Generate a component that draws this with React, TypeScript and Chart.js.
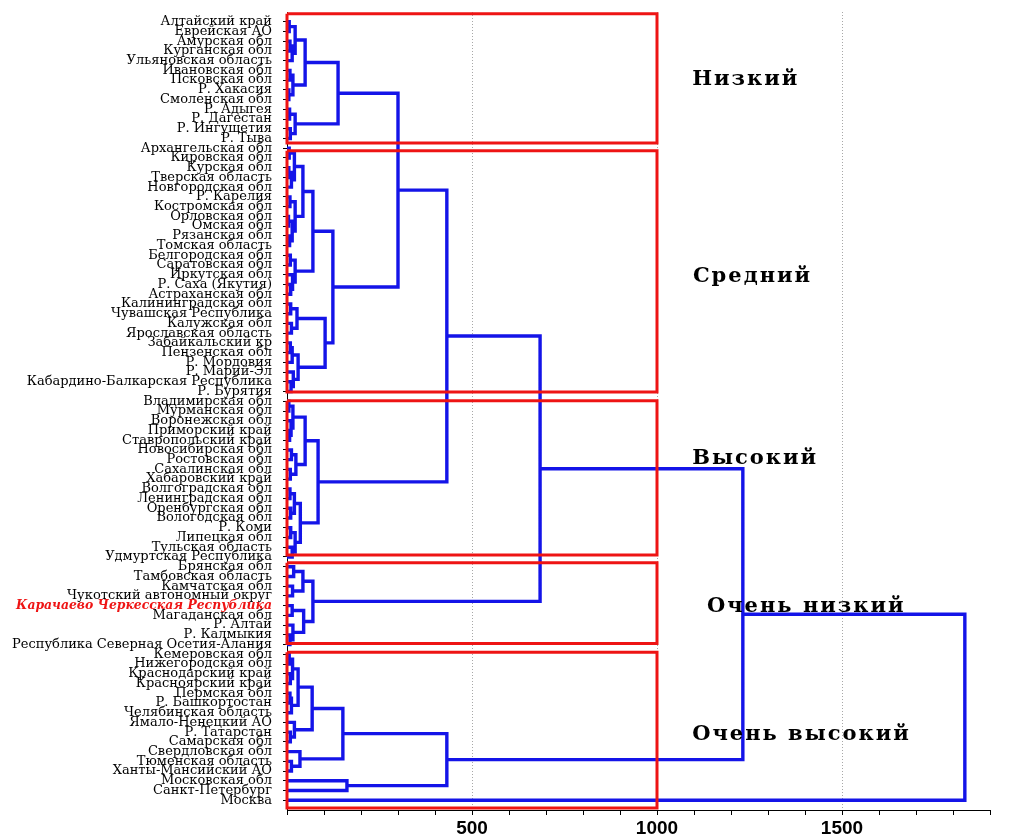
import React, { useEffect, useRef } from 'react';
import { Chart, registerables } from 'chart.js';

Chart.register(...registerables);

// Leaf labels, top to bottom
const leafLabels: string[] = [
  'Алтайский край', 'Еврейская АО', 'Амурская обл', 'Курганская обл', 'Ульяновская область',
  'Ивановская обл', 'Псковская обл', 'Р. Хакасия', 'Смоленская обл', 'Р. Адыгея',
  'Р. Дагестан', 'Р. Ингушетия', 'Р. Тыва',
  'Архангельская обл', 'Кировская обл', 'Курская обл', 'Тверская область', 'Новгородская обл',
  'Р. Карелия', 'Костромская обл', 'Орловская обл', 'Омская обл', 'Рязанская обл',
  'Томская область', 'Белгородская обл', 'Саратовская обл', 'Иркутская обл', 'Р. Саха (Якутия)',
  'Астраханская обл', 'Калининградская обл', 'Чувашская Республика', 'Калужская обл',
  'Ярославская область', 'Забайкальский кр', 'Пензенская обл', 'Р. Мордовия', 'Р. Марий-Эл',
  'Кабардино-Балкарская Республика', 'Р. Бурятия',
  'Владимирская обл', 'Мурманская обл', 'Воронежская обл', 'Приморский край', 'Ставропольский край',
  'Новосибирская обл', 'Ростовская обл', 'Сахалинская обл', 'Хабаровский край', 'Волгоградская обл',
  'Ленинградская обл', 'Оренбургская обл', 'Вологодская обл', 'Р. Коми', 'Липецкая обл',
  'Тульская область', 'Удмуртская Республика',
  'Брянская обл', 'Тамбовская область', 'Камчатская обл', 'Чукотский автономный округ',
  'Карачаево Черкесская Республика', 'Магаданская обл', 'Р. Алтай', 'Р. Калмыкия',
  'Республика Северная Осетия-Алания',
  'Кемеровская обл', 'Нижегородская обл', 'Краснодарский край', 'Красноярский край', 'Пермская обл',
  'Р. Башкортостан', 'Челябинская область', 'Ямало-Ненецкий АО', 'Р. Татарстан', 'Самарская обл',
  'Свердловская обл', 'Тюменская область', 'Ханты-Мансийский АО', 'Московская обл',
  'Санкт-Петербург', 'Москва',
];
const highlightedLeaf = 60;

// Merge trees: [left, right, linkage distance]; numbers are leaf indices
type Node = number | [Node, Node, number];

const lowTree: Node = [
  [
    [[0, 1, 6], [[2, 3, 8], 4, 14], 22],
    [[5, 6, 8], [7, 8, 5], 16],
    49,
  ],
  [[9, 10, 7], [11, 12, 9], 22],
  138,
];

const mediumTree: Node = [
  [
    [
      [[13, 14, 6], [[15, 16, 5], 17, 12], 20],
      [[18, 19, 8], [[20, 21, 4], [22, 23, 7], 14], 22],
      43,
    ],
    [[24, 25, 9], [26, [27, 28, 10], 15], 22],
    70,
  ],
  [
    [[29, 30, 10], [31, 32, 12], 27],
    [[[33, 34, 9], 35, 14], [36, [37, 38, 11], 17], 30],
    103,
  ],
  124,
];

const highTree: Node = [
  [
    [[39, 40, 5], [41, [42, 43, 7], 11], 16],
    [[44, 45, 12], [46, 47, 9], 24],
    49,
  ],
  [
    [[48, 49, 8], [50, 51, 10], 20],
    [[52, 53, 10], [54, 55, 14], 22],
    36,
  ],
  84,
];

const veryLowTree: Node = [
  [[56, 57, 18], [58, 59, 15], 43],
  [[60, 61, 14], [62, [63, 64, 8], 16], 45],
  70,
];

const veryHighTree: Node = [
  [
    [
      [[[65, 66, 6], [67, 68, 9], 15], [[69, 70, 8], 71, 12], 30],
      [72, [73, 74, 9], 20],
      68,
    ],
    [75, [76, 77, 12], 35],
    151,
  ],
  [78, 79, 162],
  432,
];

const moscowLeaf = 80;
// successive upper merges: +medium, +high, +veryLow, +veryHigh, +Moscow
const upperHeights = [300, 432, 684, 1232, 1832];

// cluster boxes (leaf-index units) and group names
const groupNames = ['Низкий', 'Средний', 'Высокий', 'Очень низкий', 'Очень высокий'];
const boxTop = [-0.82, 13.25, 38.95, 55.6, 64.8];
const boxBottom = [12.45, 38.05, 54.8, 63.9, 80.8];
const boxRight = 1000;

const xMax = 1900;
const xStep = 100;
const xLabelled = [500, 1000, 1500];

// label placement (value, leaf-index)
const groupNameX = [1095, 1097, 1095, 1135, 1095];
const groupNameY = [5.9, 26.2, 44.9, 60.1, 73.2];

const BLUE = '#1414e8';
const RED = '#ee1414';

type Pt = { x: number | null; y: number | null };

function walk(node: Node, pts: Pt[]): { h: number; y: number } {
  if (typeof node === 'number') return { h: 0, y: node };
  const a = walk(node[0], pts);
  const b = walk(node[1], pts);
  const h = node[2];
  pts.push({ x: a.h, y: a.y }, { x: h, y: a.y }, { x: h, y: b.y }, { x: b.h, y: b.y }, { x: null, y: null });
  return { h, y: (a.y + b.y) / 2 };
}

function buildTree(): Node {
  const parts: Node[] = [mediumTree, highTree, veryLowTree, veryHighTree, moscowLeaf];
  let acc: Node = lowTree;
  parts.forEach((p, i) => {
    acc = [acc, p, upperHeights[i]];
  });
  return acc;
}

const groupLabelPlugin = {
  id: 'groupLabels',
  afterDatasetsDraw(chart: any) {
    const { ctx, scales } = chart;
    ctx.save();
    ctx.font = 'bold 21px "DejaVu Serif"';
    (ctx as any).letterSpacing = '2px';
    ctx.fillStyle = '#000';
    ctx.textAlign = 'left';
    ctx.textBaseline = 'middle';
    groupNames.forEach((name, i) => {
      ctx.fillText(name, scales.x.getPixelForValue(groupNameX[i]), scales.y.getPixelForValue(groupNameY[i]));
    });
    ctx.restore();
  },
};

export default function App() {
  const ref = useRef<HTMLCanvasElement>(null);
  useEffect(() => {
    document.body.style.overflow = 'hidden';
    document.documentElement.style.overflow = 'hidden';
    const treePts: Pt[] = [];
    walk(buildTree(), treePts);
    const boxPts: Pt[] = [];
    boxTop.forEach((t, i) => {
      const b = boxBottom[i];
      boxPts.push({ x: 0, y: t }, { x: boxRight, y: t }, { x: boxRight, y: b }, { x: 0, y: b }, { x: 0, y: t }, { x: null, y: null });
    });
    const chart = new Chart(ref.current!, {
      type: 'scatter',
      data: {
        datasets: [
          {
            data: boxPts as any,
            borderColor: RED,
            borderWidth: 3,
            showLine: true,
            pointRadius: 0,
            spanGaps: false,
            clip: false as any,
            borderJoinStyle: 'miter',
          },
          {
            data: treePts as any,
            borderColor: BLUE,
            borderWidth: 3.4,
            showLine: true,
            pointRadius: 0,
            spanGaps: false,
            clip: false as any,
            borderJoinStyle: 'miter',
            borderCapStyle: 'butt',
          },
        ],
      },
      options: {
        animation: false,
        responsive: true,
        maintainAspectRatio: false,
        layout: { padding: { top: 4, right: 18, left: 0, bottom: 0 } },
        plugins: { legend: { display: false }, tooltip: { enabled: false } },
        scales: {
          x: {
            type: 'linear',
            min: 0,
            max: xMax,
            afterBuildTicks: (s: any) => {
              const t = [];
              for (let v = 0; v <= xMax; v += xStep) t.push({ value: v });
              s.ticks = t;
            },
            afterFit: (s: any) => {
              s.height = 32;
              s.paddingLeft = 0;
              s.paddingRight = 0;
            },
            ticks: {
              autoSkip: false,
              maxRotation: 0,
              padding: 2,
              color: '#000',
              font: { family: '"Liberation Sans"', size: 19, weight: 'bold' },
              callback: (v: any) => (xLabelled.includes(Number(v)) ? String(v) : ''),
            },
            grid: {
              color: (c: any) => (c.tick && xLabelled.includes(c.tick.value) ? '#a8a8a8' : 'rgba(0,0,0,0)'),
              tickColor: '#000',
              tickLength: 5,
              lineWidth: 1,
            },
            border: { display: true, color: '#000', width: 1, dash: [1, 2] },
          },
          y: {
            type: 'linear',
            reverse: true,
            min: -1,
            max: 81,
            afterBuildTicks: (s: any) => {
              s.ticks = leafLabels.map((_, i) => ({ value: i }));
            },
            afterFit: (s: any) => {
              s.width = 279;
              s.paddingTop = 0;
              s.paddingBottom = 0;
            },
            ticks: {
              autoSkip: false,
              padding: 11,
              callback: (v: any) => leafLabels[Number(v)] ?? '',
              color: (c: any) => (c.tick && c.tick.value === highlightedLeaf ? RED : '#000'),
              font: (c: any) =>
                c.tick && c.tick.value === highlightedLeaf
                  ? { family: '"DejaVu Serif"', size: 12.4, style: 'italic', weight: 'bold' }
                  : { family: '"DejaVu Serif"', size: 13 },
            },
            grid: { drawOnChartArea: false, tickColor: '#000', tickLength: 4 },
            border: { display: true, color: '#000', width: 1 },
          },
        },
      },
      plugins: [groupLabelPlugin],
    });
    return () => chart.destroy();
  }, []);
  return (
    <div style={{ width: 1000, height: 834, position: 'relative', background: '#fff' }}>
      <canvas ref={ref} />
    </div>
  );
}
